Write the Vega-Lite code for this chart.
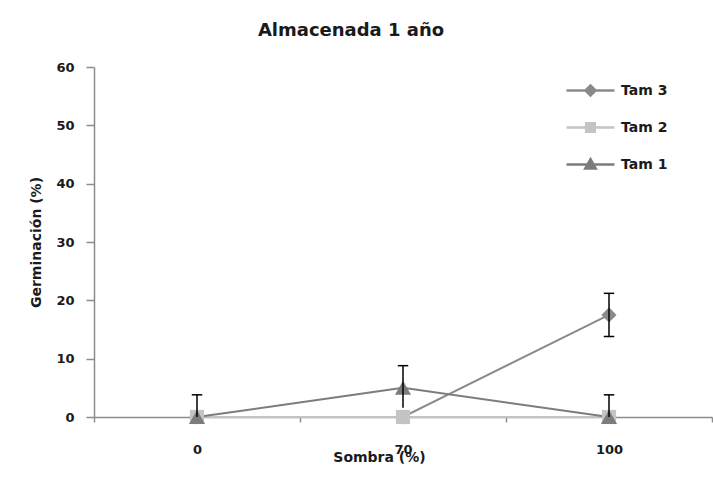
{
  "$schema": "https://vega.github.io/schema/vega-lite/v6.json",
  "width": 618,
  "height": 350,
  "autosize": {"type": "none"},
  "padding": {"left": 94, "top": 67, "right": 1, "bottom": 73},
  "background": "white",
  "title": {
    "text": "Almacenada 1 año",
    "font": "DejaVu Sans",
    "fontSize": 18,
    "fontWeight": "bold",
    "color": "#1a1a1a",
    "anchor": "middle",
    "dx": -52,
    "offset": 21
  },
  "datasets": {
    "medias": [
      {"serie": "Tam 3", "sombra": "0", "media": 0},
      {"serie": "Tam 3", "sombra": "70", "media": 0},
      {"serie": "Tam 3", "sombra": "100", "media": 17.5},
      {"serie": "Tam 2", "sombra": "0", "media": 0},
      {"serie": "Tam 2", "sombra": "70", "media": 0},
      {"serie": "Tam 2", "sombra": "100", "media": 0},
      {"serie": "Tam 1", "sombra": "0", "media": 0},
      {"serie": "Tam 1", "sombra": "70", "media": 5},
      {"serie": "Tam 1", "sombra": "100", "media": 0}
    ],
    "errores": [
      {"serie": "Tam 1", "sombra": "0", "lo": 0, "hi": 3.8, "loCap": null},
      {"serie": "Tam 1", "sombra": "70", "lo": 1.6, "hi": 8.8, "loCap": null},
      {"serie": "Tam 1", "sombra": "100", "lo": 0, "hi": 3.8, "loCap": null},
      {"serie": "Tam 3", "sombra": "100", "lo": 13.8, "hi": 21.2, "loCap": 13.8}
    ]
  },
  "encoding": {
    "x": {
      "field": "sombra",
      "type": "ordinal",
      "sort": ["0", "70", "100"],
      "scale": {"type": "band", "paddingInner": 0, "paddingOuter": 0},
      "axis": {
        "title": "Sombra (%)",
        "labelAngle": 0,
        "tickBand": "extent",
        "tickSize": 5,
        "labelPadding": 21,
        "titleX": 285,
        "titleY": 40,
        "titleBaseline": "middle"
      }
    }
  },
  "layer": [
    {
      "data": {"name": "medias"},
      "mark": {"type": "line", "strokeWidth": 2},
      "encoding": {
        "y": {
          "field": "media",
          "type": "quantitative",
          "title": "Germinación (%)",
          "scale": {"domain": [0, 60]},
          "axis": {"values": [0, 10, 20, 30, 40, 50, 60]}
        },
        "color": {
          "field": "serie",
          "type": "nominal",
          "scale": {"domain": ["Tam 3", "Tam 2", "Tam 1"], "range": ["#8a8a8a", "#c4c4c4", "#7c7c7c"]},
          "legend": {
            "encode": {
              "symbols": {
                "update": {
                  "shape": {"signal": "datum.value === 'Tam 3' ? 'M-1,0L1,0M0,-0.21L0.21,0L0,0.21L-0.21,0Z' : datum.value === 'Tam 2' ? 'M-1,0L1,0M-0.18,-0.18L0.18,-0.18L0.18,0.18L-0.18,0.18Z' : 'M-1,0L1,0M0,-0.22L0.22,0.17L-0.22,0.17Z'"},
                  "fill": {"signal": "scale('color', datum.value)"},
                  "stroke": {"signal": "scale('color', datum.value)"},
                  "strokeWidth": {"value": 2.5},
                  "opacity": {"value": 1}
                }
              }
            }
          }
        }
      }
    },
    {
      "data": {"name": "medias"},
      "transform": [{"filter": "datum.serie === 'Tam 3'"}],
      "mark": {"type": "point", "shape": "diamond", "filled": true, "opacity": 1, "size": 230},
      "encoding": {
        "y": {"field": "media", "type": "quantitative", "title": "Germinación (%)"},
        "color": {"field": "serie", "type": "nominal"}
      }
    },
    {
      "data": {"name": "medias"},
      "transform": [{"filter": "datum.serie === 'Tam 2'"}],
      "mark": {"type": "point", "shape": "square", "filled": true, "opacity": 1, "size": 200},
      "encoding": {
        "y": {"field": "media", "type": "quantitative", "title": "Germinación (%)"},
        "color": {"field": "serie", "type": "nominal"}
      }
    },
    {
      "data": {"name": "medias"},
      "transform": [{"filter": "datum.serie === 'Tam 1'"}],
      "mark": {"type": "point", "shape": "triangle-up", "filled": true, "opacity": 1, "size": 260},
      "encoding": {
        "y": {"field": "media", "type": "quantitative", "title": "Germinación (%)"},
        "color": {"field": "serie", "type": "nominal"}
      }
    },
    {
      "data": {"name": "errores"},
      "mark": {"type": "rule", "color": "black", "strokeWidth": 1.5},
      "encoding": {
        "y": {"field": "lo", "type": "quantitative", "title": "Germinación (%)"},
        "y2": {"field": "hi"}
      }
    },
    {
      "data": {"name": "errores"},
      "mark": {"type": "point", "shape": "stroke", "color": "black", "filled": false, "size": 110, "strokeWidth": 1.5, "opacity": 1},
      "encoding": {
        "y": {"field": "hi", "type": "quantitative", "title": "Germinación (%)"}
      }
    },
    {
      "data": {"name": "errores"},
      "mark": {"type": "point", "shape": "stroke", "color": "black", "filled": false, "size": 110, "strokeWidth": 1.5, "opacity": 1},
      "encoding": {
        "y": {"field": "loCap", "type": "quantitative", "title": "Germinación (%)"}
      }
    }
  ],
  "config": {
    "view": {"stroke": null},
    "axis": {
      "labelFont": "DejaVu Sans",
      "labelFontSize": 13,
      "labelFontWeight": "bold",
      "labelColor": "#1a1a1a",
      "titleFont": "DejaVu Sans",
      "titleFontSize": 14,
      "titleFontWeight": "bold",
      "titleColor": "#1a1a1a",
      "domainColor": "#8c8c8c",
      "domainWidth": 1.5,
      "tickColor": "#8c8c8c",
      "tickWidth": 1.5,
      "grid": false
    },
    "axisY": {
      "tickSize": 8,
      "labelPadding": 12,
      "titlePadding": 12
    },
    "legend": {
      "orient": "none",
      "legendX": 471,
      "legendY": 5,
      "title": null,
      "padding": 0,
      "symbolSize": 2304,
      "clipHeight": 37,
      "rowPadding": 0,
      "labelOffset": 5,
      "labelFont": "DejaVu Sans",
      "labelFontSize": 14,
      "labelFontWeight": "bold",
      "labelColor": "#1a1a1a"
    }
  }
}
